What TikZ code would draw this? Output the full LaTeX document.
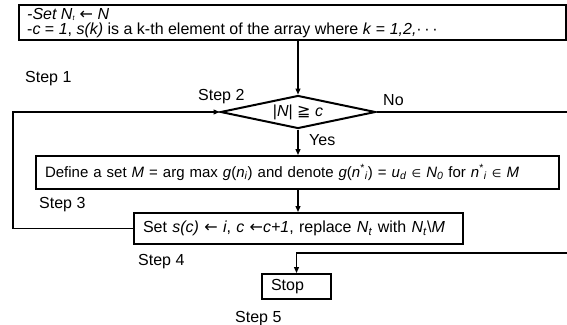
\documentclass[tikz,border=0pt]{standalone}
\usepackage{fontspec}
\setmainfont{Liberation Sans}
\newfontfamily\symf{DejaVu Sans}
\usetikzlibrary{arrows.meta,shapes.geometric}

% symbols and small helpers for the formulas
\newcommand\getsym{{\symf ←}}
\newcommand\geqqsym{{\symf ≧}}
\newcommand\insym{{\symf\fontsize{11}{11}\selectfont ∈}}
\newcommand\lowtx[1]{\textsubscript{#1}}
\newcommand\uptx[1]{\textsuperscript{#1}}

\begin{document}
\begin{tikzpicture}[x=1pt,y=-1pt,
  font=\fontsize{16}{15}\selectfont,
  stepbox/.style={draw, line width=2pt, align=left, inner xsep=9pt, inner ysep=0pt},
  decision/.style={draw, diamond, line width=2pt, inner sep=0pt,
    minimum width=155pt, minimum height=33pt, aspect=4.7},
  steplabel/.style={anchor=base west, inner sep=0pt},
  flow/.style={line width=1.3pt, -{Triangle[length=6pt,width=5pt]}}]

\clip (0,0) rectangle (567,324);
\fill[white] (0,0) rectangle (567,324);

% initialisation: frame and its two lines
\node[stepbox, minimum width=547pt, minimum height=35pt] (init) at (292.5,22.5) {};
\node[steplabel] (initA) at (27,19)
  {\textit{-Set N}{\fontsize{10}{10}\selectfont\lowtx{\textit{t}}} \getsym{} \textit{N}};
\node[steplabel] (initB) at (27,34.5)
  {-\textit{c} = \textit{1}, \textit{s(k)} is a k-th element of the array where \textit{k} = \textit{1,2,}·\,·\,·};
\node[steplabel] (l1) at (25,82) {Step 1};

% condition
\node[decision] (dia) at (298,112) {|\textit{N}| \geqqsym{} \textit{c}};
\node[steplabel] (l2) at (198,100.5) {Step 2};
\node[steplabel] (lno) at (383,105) {No};
\node[steplabel] (lyes) at (309,145) {Yes};

% selection
\node[stepbox, text width=505pt, minimum height=33pt,
      font=\fontsize{15}{15}\selectfont] (sel) at (297.5,172.5)
  {Define a set \textit{M} = arg max \textit{g}(\textit{n}\lowtx{\textit{i}}) and denote
   \textit{g}(\textit{n}\uptx{*}\lowtx{\textit{i}}) = \textit{u}\lowtx{\textit{d}} \insym{}
   \textit{N}\lowtx{\textit{0}} for \textit{n}\uptx{*}\lowtx{\textit{i}} \insym{} \textit{M}};
\node[steplabel] (l3) at (39,208.3) {Step 3};

% update
\node[stepbox, text width=311pt, minimum height=31pt] (upd) at (298.5,228.5)
  {Set \textit{s(c)} \getsym{} \textit{i}, \textit{c} \getsym\textit{c+1}, replace
   \textit{N}\lowtx{\textit{t}} with \textit{N}\lowtx{\textit{t}}\textbackslash\textit{M}};
\node[steplabel] (l4) at (138,265) {Step 4};

% end
\node[stepbox, text width=51pt, minimum height=25pt] (stop) at (296.5,286.5) {Stop};
\node[steplabel] (l5) at (235,322) {Step 5};

% connectors
\coordinate (loop) at (13,112);
\coordinate (back) at (585,253);
\draw[flow] (init.south -| dia.north) -- (dia.north);
\draw[flow] (dia.south) -- (sel.north -| dia.south);
\draw[flow] (sel.south -| dia.south) -- (upd.north -| dia.south);
\draw[flow] (upd.west) -| (loop) -- (dia.west);
\draw[flow] (dia.east) -| (back) -| (stop.north);
\end{tikzpicture}
\end{document}
